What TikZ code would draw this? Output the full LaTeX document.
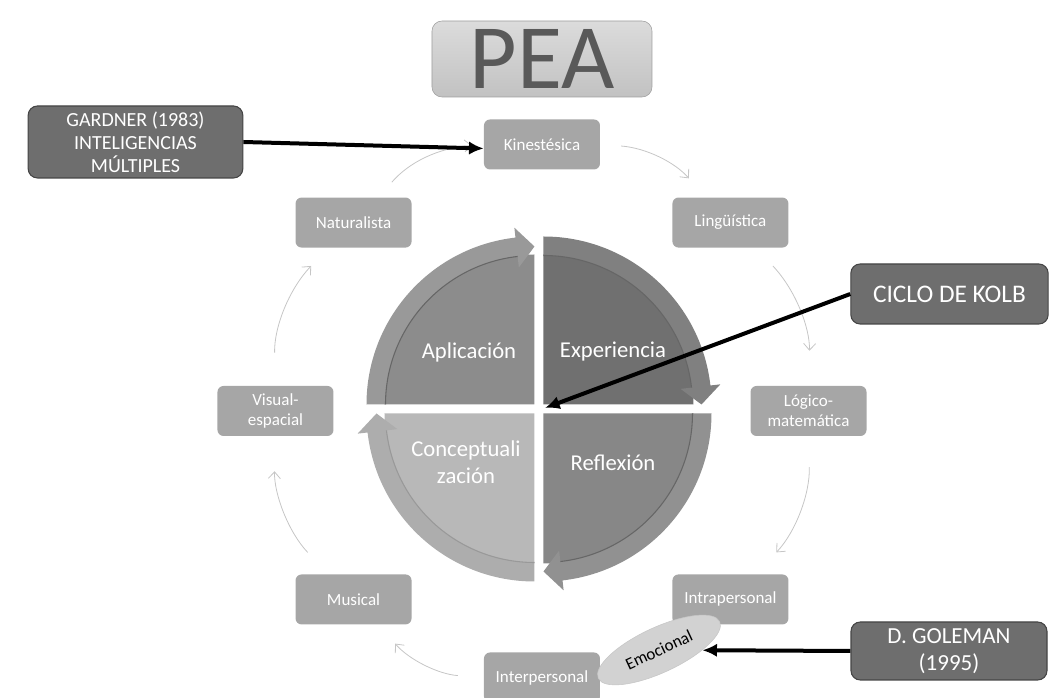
\documentclass[tikz,border=0pt]{standalone}
\usepackage{fontspec}
\setmainfont{Carlito}
\usepackage{tikz}
\usetikzlibrary{arrows.meta,positioning,shapes.geometric,calc}
\usepackage{xcolor}

\definecolor{cajagris}{HTML}{A6A6A6}
\definecolor{cajaoscura}{HTML}{6E6E6E}
\definecolor{bordeoscuro}{HTML}{454545}
\definecolor{textopea}{HTML}{595959}

\begin{document}
\begin{tikzpicture}[
    x=0.75pt, y=0.75pt,
    intel/.style={fill=cajagris, rounded corners=4.5pt, minimum width=87pt, minimum height=37.5pt, align=center, text=white, inner sep=2pt, font=\fontsize{12.75pt}{15pt}\selectfont},
    autor/.style={draw=bordeoscuro, line width=0.8pt, fill=cajaoscura, rounded corners=7pt, align=center, text=white},
    arrow/.style={-{Latex[length=11pt,width=10pt]}, line width=3pt, color=black},
    ciclo/.style={-{Straight Barb[length=5pt,width=9pt]}, line width=0.6pt, color=gray!45},
    fase/.style={text=white, align=center, font=\fontsize{17pt}{20pt}\selectfont},
    borde/.style={line width=0.8pt, color=black!60},
]
\useasboundingbox (-542,-287) rectangle (522,411);

% titulo
\node[draw=gray!75, top color=gray!28, bottom color=gray!48, rounded corners=7.5pt, minimum width=165pt, minimum height=57pt, inner sep=0pt, text=textopea, font=\fontsize{69pt}{69pt}\selectfont] (pea) at (0,352) {PEA};

% inteligencias multiples
\node[intel] (kines) at (90:266.5) {Kinestésica};
\node[intel] (lingu) at (45:266.5) {Lingüística};
\node[intel] (logico) at (0:266.5) {Lógico-\\matemática};
\node[intel] (intra) at (-45:266.5) {Intrapersonal};
\node[intel] (inter) at (-90:266.5) {Interpersonal};
\node[intel] (musical) at (225:266.5) {Musical};
\node[intel] (visual) at (180:266.5) {Visual-\\espacial};
\node[intel] (natur) at (135:266.5) {Naturalista};

\draw[ciclo, shorten <=15.75pt, shorten >=18.75pt] (kines) to[bend left=22.5] (lingu);
\draw[ciclo, shorten <=18.75pt, shorten >=26.25pt] (lingu) to[bend left=22.5] (logico);
\draw[ciclo, shorten <=23.25pt, shorten >=22.5pt] (logico) to[bend left=22.5] (intra);
\draw[ciclo, shorten <=19.5pt, shorten >=18.75pt] (inter) to[bend left=22.5] (musical);
\draw[ciclo, shorten <=22.5pt, shorten >=26.25pt] (musical) to[bend left=22.5] (visual);
\draw[ciclo, shorten <=24.75pt, shorten >=18.75pt] (visual) to[bend left=22.5] (natur);
\draw[ciclo, shorten <=15pt, shorten >=9pt] (natur) to[bend left=22.5] (kines);

% ciclo de Kolb
\begin{scope}[shift={(-7.5,6.5)}]
\fill[black!45] (0,0) -- (180:150) arc[start angle=180, end angle=90, radius=150] -- cycle;
\fill[black!40] (180:168) arc[start angle=180, end angle=96.5, radius=168] -- (96.5:178) -- (90:158) -- (96.5:138) -- (96.5:149) arc[start angle=96.5, end angle=180, radius=149] -- cycle;
\draw[borde] (180:149) arc[start angle=180, end angle=96.5, radius=149];
\end{scope}
\begin{scope}[shift={(1.5,6.5)}]
\fill[black!56] (0,0) -- (90:150) arc[start angle=90, end angle=0, radius=150] -- cycle;
\fill[black!50] (90:168) arc[start angle=90, end angle=6.5, radius=168] -- (6.5:178) -- (0:158) -- (6.5:138) -- (6.5:149) arc[start angle=6.5, end angle=90, radius=149] -- cycle;
\draw[borde] (90:149) arc[start angle=90, end angle=6.5, radius=149];
\end{scope}
\begin{scope}[shift={(1.5,-2.5)}]
\fill[black!47] (0,0) -- (0:150) arc[start angle=0, end angle=-90, radius=150] -- cycle;
\fill[black!43] (0:168) arc[start angle=0, end angle=-83.5, radius=168] -- (-83.5:178) -- (-90:158) -- (-83.5:138) -- (-83.5:149) arc[start angle=-83.5, end angle=0, radius=149] -- cycle;
\draw[borde] (0:149) arc[start angle=0, end angle=-83.5, radius=149];
\end{scope}
\begin{scope}[shift={(-7.5,-2.5)}]
\fill[black!28] (0,0) -- (-90:150) arc[start angle=-90, end angle=-180, radius=150] -- cycle;
\fill[black!32] (-90:168) arc[start angle=-90, end angle=-173.5, radius=168] -- (-173.5:178) -- (-180:158) -- (-173.5:138) -- (-173.5:149) arc[start angle=-173.5, end angle=-90, radius=149] -- cycle;
\draw[borde, color=black!40] (-90:149) arc[start angle=-90, end angle=-173.5, radius=149];
\end{scope}

\node[fase] (aplic) at (-73,59) {Aplicación};
\node[fase] (exper) at (71,59) {Experiencia};
\node[fase] (reflex) at (71,-52) {Reflexión};
\node[fase] (concep) at (-76,-51) {Conceptuali\\zación};

% autores
\node[autor, minimum width=161pt, minimum height=54pt, font=\fontsize{15pt}{17.25pt}\selectfont] (gardner) at (-406.5,269) {GARDNER (1983)\\INTELIGENCIAS\\MÚLTIPLES};
\node[autor, minimum width=148pt, minimum height=45pt, font=\fontsize{19pt}{22pt}\selectfont] (kolb) at (407.5,117) {CICLO DE KOLB};
\node[autor, minimum width=147pt, minimum height=43.5pt, font=\fontsize{17.25pt}{20pt}\selectfont] (goleman) at (407,-240) {D. GOLEMAN\\(1995)};
\node[ellipse, draw=gray!45, fill=gray!35, minimum width=100.5pt, minimum height=33.75pt, inner sep=0pt, rotate=25, font=\fontsize{12.75pt}{15pt}\selectfont] (emoc) at (117,-239) {Emocional};

\coordinate (kolbtip) at (3,3);
\draw[arrow] (gardner.east) -- ([yshift=-3pt]kines.west);
\draw[arrow] (kolb.west) -- (kolbtip);
\draw[arrow] (goleman.west) -- (emoc);
\end{tikzpicture}
\end{document}
